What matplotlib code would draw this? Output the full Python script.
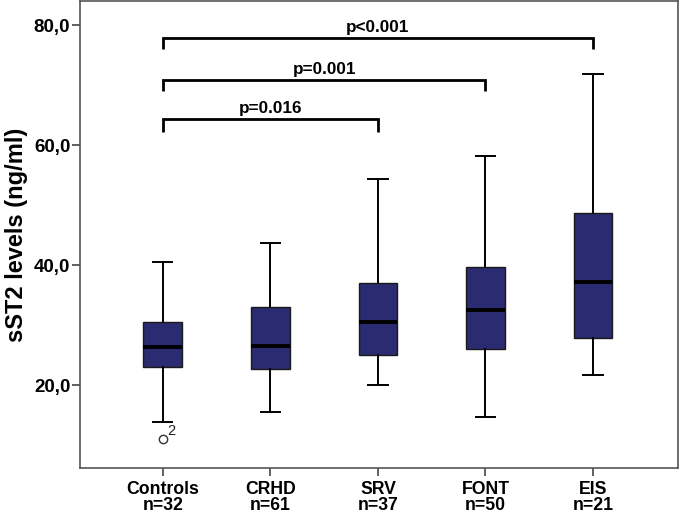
import matplotlib
matplotlib.use("Agg")
import matplotlib.pyplot as plt
from matplotlib.ticker import FixedLocator, FuncFormatter

plt.rcParams['font.family'] = ['Liberation Sans', 'DejaVu Sans']

categories = ["Controls", "CRHD", "SRV", "FONT", "EIS"]
n_counts = [32, 61, 37, 50, 21]
whislo = [13.9, 15.5, 20.1, 14.7, 21.7]
q1 = [23.1, 22.7, 25.0, 26.1, 27.9]
med = [26.4, 26.5, 30.5, 32.5, 37.2]
q3 = [30.6, 33.0, 37.1, 39.7, 48.6]
whishi = [40.6, 43.7, 54.4, 58.1, 71.8]
outliers = [[11.05], [], [], [], []]
outlier_labels = [["2"], [], [], [], []]

comparisons = [(1, 3, "p=0.016", 64.3, 62.2), (1, 4, "p=0.001", 70.8, 69.05), (1, 5, "p<0.001", 77.8, 76.0)]
yticks = [20, 40, 60, 80]

fig = plt.figure(figsize=(6.8, 5.17), dpi=100)
ax = fig.add_axes([80/680, 1-468/517, (678-80)/680, (468-1)/517])

stats = []
for i in range(len(categories)):
    stats.append(dict(whislo=whislo[i], q1=q1[i], med=med[i], q3=q3[i], whishi=whishi[i], fliers=outliers[i]))

positions = list(range(1, len(categories)+1))
ax.bxp(stats, positions=positions, widths=0.36, patch_artist=True, capwidths=0.18,
       boxprops=dict(facecolor="#2b2b72", edgecolor="#1a1a1a", linewidth=1.0),
       medianprops=dict(color="black", linewidth=2.8),
       whiskerprops=dict(color="black", linewidth=1.4),
       capprops=dict(color="black", linewidth=1.4),
       flierprops=dict(marker="o", markerfacecolor="white", markeredgecolor="#333333", markersize=6, markeredgewidth=1.0))

for i, (vals, labs) in enumerate(zip(outliers, outlier_labels)):
    for v, l in zip(vals, labs):
        ax.annotate(l, (positions[i], v), xytext=(3.5, 0.5), textcoords="offset points",
                    fontsize=10.5, color="#222222", ha="left", va="bottom")

for a, b, txt, ytop, ybot in comparisons:
    ax.plot([a, a, b, b], [ybot, ytop, ytop, ybot], color="black", linewidth=2.0, solid_capstyle="butt", solid_joinstyle="miter")
    ax.text((a+b)/2, ytop + 0.6, txt, ha="center", va="bottom", fontsize=12.3, fontweight="bold")

ax.set_xlim(0.23, 5.79)
ax.set_ylim(6.2, 84)
ax.yaxis.set_major_locator(FixedLocator(yticks))
ax.yaxis.set_major_formatter(FuncFormatter(lambda v, p: f"{v:.1f}".replace(".", ",")))
ax.set_xticks(positions)
ax.set_xticklabels([f"{c}\nn={n}" for c, n in zip(categories, n_counts)], linespacing=1.0)
ax.tick_params(axis="both", direction="out", length=6, width=1.2, color="#444444")
ax.tick_params(axis="y", labelsize=13.5, pad=1)
ax.tick_params(axis="x", labelsize=12.7, pad=3)
for lab in ax.get_xticklabels() + ax.get_yticklabels():
    lab.set_fontweight("bold")
ax.set_ylabel("sST2 levels (ng/ml)", fontsize=17, fontweight="bold", labelpad=4)
for s in ax.spines.values():
    s.set_color("#555555")
    s.set_linewidth(1.2)

fig.savefig("out.png", dpi=100)
